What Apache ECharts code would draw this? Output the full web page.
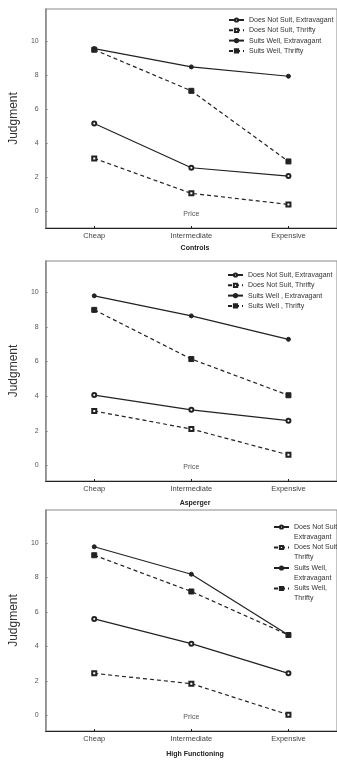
<!DOCTYPE html>
<html>
<head>
<meta charset="utf-8">
<script src="https://cdn.jsdelivr.net/npm/echarts@6/dist/echarts.min.js"></script>
<style>
html,body{margin:0;padding:0;background:#fff;}
#chart{width:337px;height:760px;}
</style>
</head>
<body>
<div id="chart"></div>
<script>
// ---- data ----
const categories = ['Cheap', 'Intermediate', 'Expensive'];
const yTickValues = [0, 2, 4, 6, 8, 10];
const panelTitles = ['Controls', 'Asperger', 'High Functioning'];

const controlsNames = ['Does Not Suit, Extravagant', 'Does Not Suit, Thrifty', 'Suits Well, Extravagant', 'Suits Well, Thrifty'];
const aspergerNames = ['Does Not Suit, Extravagant', 'Does Not Suit, Thrifty', 'Suits Well , Extravagant', 'Suits Well , Thrifty'];
const hfNames = ['Does Not Suit, Extravagant', 'Does Not Suit, Thrifty', 'Suits Well, Extravagant', 'Suits Well, Thrifty'];

const controlsDnsExtravagant = [5.16, 2.55, 2.06];
const controlsDnsThrifty = [3.10, 1.04, 0.39];
const controlsSwExtravagant = [9.57, 8.49, 7.94];
const controlsSwThrifty = [9.50, 7.08, 2.92];

const aspergerDnsExtravagant = [4.06, 3.21, 2.58];
const aspergerDnsThrifty = [3.14, 2.10, 0.61];
const aspergerSwExtravagant = [9.79, 8.63, 7.28];
const aspergerSwThrifty = [8.98, 6.14, 4.05];

const hfDnsExtravagant = [5.59, 4.16, 2.44];
const hfDnsThrifty = [2.44, 1.84, 0.04];
const hfSwExtravagant = [9.77, 8.18, 4.66];
const hfSwThrifty = [9.28, 7.18, 4.66];

const yMins = [-1, -0.9, -0.9];
const yMaxs = [11.9, 11.8, 11.9];

// ---- layout/style ----
const FONT = 'Liberation Sans, Arial, sans-serif';
const grids = [
  {left: 42, top: 9, width: 306, height: 219},
  {left: 42, top: 261, width: 306, height: 220},
  {left: 42, top: 510, width: 306, height: 221}
];
const seriesStyles = [
  {symbol: 'emptyCircle', type: 'solid', size: 4},
  {symbol: 'emptyRect', type: 'dashed', size: 4},
  {symbol: 'circle', type: 'solid', size: 4},
  {symbol: 'rect', type: 'dashed', size: 5}
];
const panelData = [
  [controlsDnsExtravagant, controlsDnsThrifty, controlsSwExtravagant, controlsSwThrifty],
  [aspergerDnsExtravagant, aspergerDnsThrifty, aspergerSwExtravagant, aspergerSwThrifty],
  [hfDnsExtravagant, hfDnsThrifty, hfSwExtravagant, hfSwThrifty]
];
const panelNames = [controlsNames, aspergerNames, hfNames];
const titleY = [249, 504, 755];
const legendPos = [
  {left: 228, top: 16},
  {left: 227, top: 271},
  {left: 273, top: 512}
];

const option = {
  backgroundColor: '#fff',
  animation: false,
  grid: grids.map(g => Object.assign({show: true, borderColor: '#888', borderWidth: 1, backgroundColor: 'transparent'}, g)),
  title: panelTitles.map((t, i) => ({
    text: t, left: 195, top: titleY[i] - 4, textAlign: 'center', padding: 0,
    textStyle: {fontFamily: FONT, fontSize: 7, fontWeight: 'bold', color: '#222'}
  })),
  legend: panelNames.map((names, i) => ({
    data: names,
    left: legendPos[i].left, top: legendPos[i].top, padding: 0,
    orient: 'vertical',
    itemWidth: 15, itemHeight: 4, itemGap: i === 2 ? -9.5 : 2.3,
    textStyle: i === 2
      ? {fontFamily: FONT, fontSize: 7, color: '#333', lineHeight: 10}
      : {fontFamily: FONT, fontSize: 7, color: '#333', lineHeight: 8},
    formatter: i === 2 ? (n => '\n' + n.replace(', ', ',\n')) : (n => n),
    selectedMode: false
  })),
  xAxis: grids.map((g, i) => ({
    type: 'category', gridIndex: i, data: categories, boundaryGap: true,
    name: 'Price', nameLocation: 'middle', nameGap: -17, nameMoveOverlap: false,
    nameTextStyle: {fontFamily: FONT, fontSize: 7, color: '#555'},
    axisLine: {onZero: false, lineStyle: {color: '#222', width: 1}},
    axisTick: {show: true, inside: true, length: 2, alignWithLabel: true, lineStyle: {color: '#222'}},
    axisLabel: {fontFamily: FONT, fontSize: 7.5, color: '#444', margin: 4},
    splitLine: {show: false}
  })),
  yAxis: grids.map((g, i) => ({
    type: 'value', gridIndex: i, min: yMins[i], max: yMaxs[i],
    name: 'Judgment', nameLocation: 'middle', nameGap: 14,
    nameTextStyle: {fontFamily: FONT, fontSize: 12, color: '#333'},
    axisLine: {show: true, onZero: false, lineStyle: {color: '#888', width: 1.5}},
    axisTick: {show: true, inside: true, length: 2, customValues: yTickValues, lineStyle: {color: '#888'}},
    axisLabel: {fontFamily: FONT, fontSize: 7, color: '#555', margin: 7, customValues: yTickValues},
    splitLine: {show: false}
  })),
  series: []
};

panelData.forEach((arrs, p) => {
  arrs.forEach((vals, k) => {
    const st = seriesStyles[k];
    option.series.push({
      type: 'line', name: panelNames[p][k], xAxisIndex: p, yAxisIndex: p,
      data: vals,
      symbol: st.symbol, symbolSize: st.size,
      lineStyle: {color: '#222', width: 1.2, type: st.type === 'dashed' ? [4, 3] : 'solid'},
      itemStyle: {color: '#222', borderColor: '#222', borderWidth: 1},
      emphasis: {disabled: true}
    });
  });
});

const chart = echarts.init(document.getElementById('chart'), null, {renderer: 'canvas'});
chart.setOption(option);
</script>
</body>
</html>
